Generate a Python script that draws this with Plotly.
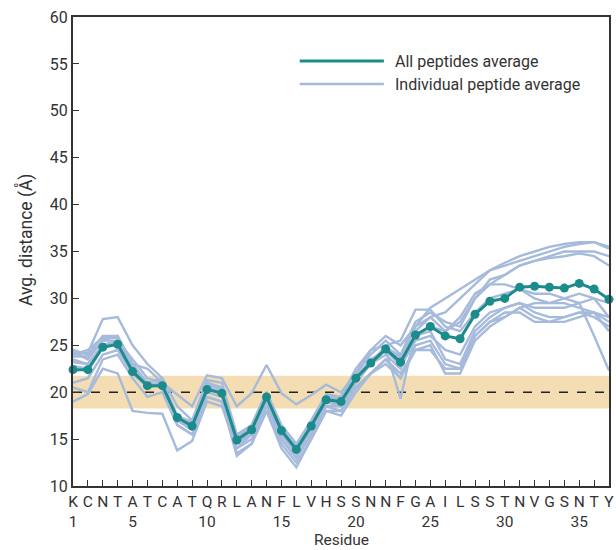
import plotly.graph_objects as go

residues = list(range(1, 38))
sequence = list("KCNTATCATQRLANFLVHSSNNFGAILSSTNVGSNTY")
number_ticks = [1, 5, 10, 15, 20, 25, 30, 35]

avg_all = [22.4, 22.4, 24.8, 25.1, 22.2, 20.7, 20.7, 17.3, 16.4, 20.3, 19.9, 14.9, 16.0, 19.5,
           15.9, 13.9, 16.4, 19.2, 19.0, 21.5, 23.1, 24.6, 23.2, 26.1, 27.0, 26.0, 25.7, 28.3,
           29.7, 30.0, 31.2, 31.3, 31.2, 31.1, 31.6, 31.0, 29.9]

pep1 = [24.0, 24.2, 27.8, 28.0, 25.0, 23.0, 21.5, 18.5, 17.0, 21.3, 21.0, 15.5, 16.5, 20.0, 16.5,
        14.5, 17.0, 19.8, 19.5, 22.0, 24.0, 25.5, 24.0, 27.5, 28.5, 27.5, 27.0, 30.0, 31.5, 32.5,
        33.5, 34.0, 34.3, 34.5, 34.8, 34.5, 33.5]
pep2 = [19.0, 19.8, 22.5, 22.0, 18.0, 17.8, 17.7, 13.8, 14.8, 19.0, 18.5, 14.0, 15.0, 18.5, 15.0,
        13.0, 15.5, 18.5, 18.0, 20.5, 22.0, 23.5, 21.5, 25.0, 25.5, 23.0, 22.5, 26.0, 27.5, 28.0,
        29.0, 28.0, 27.5, 27.5, 28.0, 28.5, 27.5]
pep3 = [24.3, 23.5, 25.5, 25.5, 23.5, 21.5, 21.0, 19.8, 18.5, 21.8, 21.5, 18.5, 19.9, 22.9, 19.9,
        18.7, 19.7, 20.8, 20.0, 22.0, 24.5, 25.0, 25.5, 28.8, 28.8, 27.0, 26.5, 28.5, 30.0, 30.5,
        31.0, 30.0, 29.5, 30.0, 30.5, 30.0, 28.0]
pep4 = [23.8, 23.8, 25.5, 26.0, 23.0, 21.0, 21.5, 17.0, 16.0, 20.5, 20.0, 14.5, 15.5, 19.5, 15.5,
        13.5, 16.0, 19.0, 18.5, 21.5, 23.5, 24.5, 19.3, 26.5, 28.0, 28.5, 30.0, 31.5, 33.0, 33.5,
        34.0, 34.5, 35.0, 35.5, 35.8, 36.0, 35.5]
pep5 = [23.5, 23.0, 25.0, 25.5, 22.5, 21.0, 20.5, 17.0, 16.0, 20.0, 19.5, 14.0, 15.5, 19.0, 15.0,
        13.0, 15.5, 18.5, 18.5, 21.0, 23.0, 24.0, 22.5, 26.0, 27.0, 26.5, 28.0, 30.5, 31.5, 31.5,
        31.0, 30.5, 30.5, 30.0, 29.5, 26.0, 22.3]
pep6 = [24.5, 24.0, 26.0, 26.0, 23.0, 22.5, 21.0, 17.5, 16.5, 21.0, 20.5, 15.0, 16.5, 20.0, 16.0,
        14.0, 16.8, 19.5, 19.5, 22.5, 24.5, 26.0, 25.0, 27.0, 29.0, 30.0, 31.0, 32.0, 33.0, 33.8,
        34.5, 35.0, 35.5, 35.8, 36.0, 36.0, 35.3]
pep7 = [21.0, 21.5, 24.0, 24.5, 22.0, 20.5, 21.0, 16.5, 15.5, 19.5, 19.0, 13.5, 14.5, 18.0, 14.5,
        12.5, 15.0, 18.0, 18.0, 20.5, 22.0, 23.5, 22.0, 24.5, 25.0, 22.0, 22.0, 25.5, 27.0, 28.0,
        29.0, 29.5, 29.5, 29.5, 29.0, 28.5, 26.5]
pep8 = [20.5, 20.0, 23.5, 24.0, 21.5, 19.5, 20.0, 16.5, 15.5, 19.5, 19.0, 13.2, 14.5, 18.0, 14.0,
        12.0, 15.0, 18.0, 17.5, 20.0, 22.0, 23.0, 21.5, 24.5, 24.5, 22.5, 22.5, 26.0, 27.5, 28.5,
        28.5, 27.5, 27.5, 28.0, 28.5, 28.0, 27.0]
pep9 = [23.2, 23.0, 25.0, 25.5, 22.5, 21.0, 20.5, 17.0, 16.5, 20.5, 20.0, 15.0, 16.0, 19.5, 16.0,
        14.0, 16.5, 19.0, 19.0, 21.5, 23.0, 24.5, 23.5, 27.0, 28.0, 26.5, 27.5, 30.0, 32.0, 32.5,
        33.5, 34.0, 34.5, 35.0, 35.0, 35.0, 34.5]
pep10 = [24.0, 24.5, 25.8, 25.8, 22.5, 20.8, 21.0, 17.5, 16.8, 20.8, 20.3, 15.3, 16.3, 20.0, 16.2,
         14.3, 16.8, 19.5, 19.3, 21.8, 23.3, 24.8, 23.8, 26.0, 26.5, 23.5, 23.0, 26.5, 28.0, 29.0,
         29.5, 29.0, 29.0, 29.0, 29.5, 30.0, 29.5]
pep11 = [22.8, 22.5, 25.0, 25.3, 22.3, 20.5, 20.8, 17.0, 16.2, 20.3, 19.8, 14.5, 15.8, 19.5, 15.5,
         13.5, 16.0, 19.0, 18.8, 21.5, 23.0, 24.5, 22.8, 25.5, 26.0, 24.5, 24.0, 27.0, 28.5, 29.0,
         29.5, 28.5, 28.0, 28.0, 28.5, 28.5, 28.0]

individual = [pep1, pep2, pep3, pep4, pep5, pep6, pep7, pep8, pep9, pep10, pep11]

band_low, band_high = 18.25, 21.75
reference_line = 20.0
y_ticks = list(range(10, 61, 5))

TEAL = "#1b8b8c"
LIGHT = "#a6bbdc"
BAND = "#f4ddb2"
FONT = "Roboto"
TXT = "#333"

tick_text = []
for r, aa in zip(residues, sequence):
    num = str(r) if r in number_ticks else " "
    tick_text.append(f"{aa}<br>{num}")

fig = go.Figure()
for pep in individual:
    fig.add_trace(go.Scatter(x=residues, y=pep, mode="lines",
                             line=dict(color=LIGHT, width=2.4), showlegend=False,
                             hoverinfo="skip"))
fig.add_trace(go.Scatter(x=residues, y=avg_all, mode="lines+markers",
                         line=dict(color=TEAL, width=3),
                         marker=dict(color=TEAL, size=9), showlegend=False,
                         cliponaxis=False))

fig.add_hrect(y0=band_low, y1=band_high, fillcolor=BAND, line_width=0, layer="below")
fig.add_hline(y=reference_line, line=dict(color="#222", width=1.6, dash="dash"), layer="below")

# legend (drawn manually for long line samples)
leg_items = [("All peptides average", TEAL, 3, 0.906), ("Individual peptide average", LIGHT, 2.5, 0.857)]
for label, col, w, yp in leg_items:
    fig.add_shape(type="line", xref="paper", yref="paper", x0=0.423, x1=0.58, y0=yp, y1=yp,
                  line=dict(color=col, width=w))
    fig.add_annotation(xref="paper", yref="paper", x=0.597, y=yp, text=label, showarrow=False,
                       xanchor="left", yanchor="middle", font=dict(family=FONT, size=16, color=TXT))

# axis titles
fig.add_annotation(xref="paper", yref="paper", x=0.5, y=-0.1151, text="Residue", showarrow=False,
                   xanchor="center", yanchor="middle", borderpad=0,
                   font=dict(family=FONT, size=15.5, color=TXT))
fig.add_annotation(xref="paper", yref="paper", x=-0.089, y=0.525, text="Avg. distance (Å)",
                   showarrow=False, textangle=-90, xanchor="center", yanchor="middle",
                   font=dict(family=FONT, size=17.5, color=TXT))

fig.update_layout(
    width=616, height=550,
    margin=dict(l=73, r=2, t=17, b=64),
    plot_bgcolor="white", paper_bgcolor="white",
    font=dict(family=FONT, size=16, color=TXT),
)
fig.update_xaxes(range=[1, 37], tickvals=residues, ticktext=tick_text, tickangle=0,
                 ticklabeloverflow="allow",
                 ticks="inside", ticklen=6,
                 tickcolor=TXT, showline=True, linecolor=TXT, linewidth=2, mirror=True,
                 showgrid=False, zeroline=False, tickfont=dict(size=15.5))
fig.update_yaxes(range=[10, 60], tickvals=y_ticks, ticks="inside", ticklen=6, tickcolor=TXT,
                 showline=True, linecolor=TXT, linewidth=2, mirror=True,
                 showgrid=False, zeroline=False, tickfont=dict(size=16))

fig.write_html("out.html")
